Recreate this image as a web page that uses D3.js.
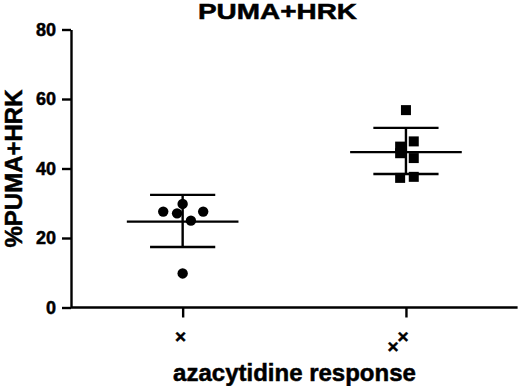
<!DOCTYPE html>
<html>
<head>
<meta charset="utf-8">
<script src="https://cdn.jsdelivr.net/npm/d3@7"></script>
<style>
  html, body { margin: 0; padding: 0; background: #fff; }
  svg { display: block; }
  text { font-family: "Liberation Sans", Arial, Helvetica, sans-serif; font-weight: bold; fill: #000; stroke: #000; stroke-width: 0.5px; }
</style>
</head>
<body>
<script>
// ---- data ----
const categories = ["×", "××"];
const group1Values = [27.6, 29.8, 27.1, 25.0, 27.6, 9.8];
const group1Jitter = [-0.087, 0.0, -0.025, 0.037, 0.092, 0.0];
const group2Values = [56.8, 47.8, 46.3, 44.4, 43.0, 37.3, 37.6];
const group2Jitter = [0.0, 0.035, -0.026, -0.026, 0.035, -0.026, 0.035];
const means = [24.7, 44.7];
const errLow = [17.4, 38.4];
const errHigh = [32.4, 51.7];
const yTicks = [0, 20, 40, 60, 80];
const title = "PUMA+HRK";
const yLabel = "%PUMA+HRK";
const xLabel = "azacytidine response";

// ---- layout ----
const W = 520, H = 386;
const mLeft = 71, mRight = 517.6, mTop = 29.5, mBottom = 307.5;

const svg = d3.select("body").append("svg").attr("width", W).attr("height", H);

const x = d3.scaleLinear().domain([-0.5, 1.5]).range([mLeft, mRight]);
const y = d3.scaleLinear().domain([0, 80]).range([mBottom, mTop]);

// y axis
const yAxis = svg.append("g").attr("transform", `translate(${mLeft},0)`)
  .call(d3.axisLeft(y).tickValues(yTicks).tickSize(9).tickSizeOuter(0).tickPadding(6));
yAxis.select(".domain").attr("stroke", "#000").attr("stroke-width", 2.4);
yAxis.selectAll(".tick line").attr("stroke", "#000").attr("stroke-width", 2.4);
yAxis.selectAll(".tick text").style("font-size", "18px").style("font-weight", "bold").attr("fill", "#000")
  .style("font-family", '"Liberation Sans", Arial, sans-serif');

// x axis
const xAxis = svg.append("g").attr("transform", `translate(0,${mBottom})`)
  .call(d3.axisBottom(x).tickValues([0, 1]).tickSize(10).tickSizeOuter(0).tickFormat(() => ""));
xAxis.select(".domain").attr("stroke", "#000").attr("stroke-width", 2.4)
  .attr("d", `M${mLeft},0H${mRight}`);
xAxis.selectAll(".tick line").attr("stroke", "#000").attr("stroke-width", 2.4);

// x tick labels (crosses)
categories.forEach((c, i) => {
  if (c.length === 1) {
    svg.append("text").attr("text-anchor", "middle").style("font-size", "19px")
      .attr("x", x(i) - 2).attr("y", 342.5).text(c);
  } else {
    svg.append("text").attr("text-anchor", "middle").style("font-size", "19px")
      .attr("x", x(i) - 13).attr("y", 352.5).text(c[0]);
    svg.append("text").attr("text-anchor", "middle").style("font-size", "19px")
      .attr("x", x(i) - 3).attr("y", 342.5).text(c[1]);
  }
});

// error bars & means
const eb = svg.append("g").attr("stroke", "#000").attr("stroke-width", 2.4);
means.forEach((m, i) => {
  eb.append("line").attr("x1", x(i - 0.25)).attr("x2", x(i + 0.25)).attr("y1", y(m)).attr("y2", y(m));
  eb.append("line").attr("x1", x(i - 0.146)).attr("x2", x(i + 0.146)).attr("y1", y(errHigh[i])).attr("y2", y(errHigh[i]));
  eb.append("line").attr("x1", x(i - 0.146)).attr("x2", x(i + 0.146)).attr("y1", y(errLow[i])).attr("y2", y(errLow[i]));
  eb.append("line").attr("x1", x(i)).attr("x2", x(i)).attr("y1", y(errLow[i])).attr("y2", y(errHigh[i]));
});

// points
svg.append("g").selectAll("circle").data(group1Values).join("circle")
  .attr("cx", (d, k) => x(0 + group1Jitter[k]))
  .attr("cy", d => y(d))
  .attr("r", 5.2)
  .attr("fill", "#000");

const sq = 10;
svg.append("g").selectAll("rect").data(group2Values).join("rect")
  .attr("x", (d, k) => x(1 + group2Jitter[k]) - sq / 2)
  .attr("y", d => y(d) - sq / 2)
  .attr("width", sq).attr("height", sq)
  .attr("fill", "#000");

// title
svg.append("text").attr("x", 277.5).attr("y", 19).attr("text-anchor", "middle")
  .style("font-size", "22px").attr("textLength", 159).attr("lengthAdjust", "spacingAndGlyphs")
  .text(title);

// y label
svg.append("text").attr("transform", "translate(21.5,168.5) rotate(-90)").attr("text-anchor", "middle")
  .style("font-size", "24px").text(yLabel);

// x label
svg.append("text").attr("x", 294.5).attr("y", 381).attr("text-anchor", "middle")
  .style("font-size", "24px").text(xLabel);
</script>
</body>
</html>
